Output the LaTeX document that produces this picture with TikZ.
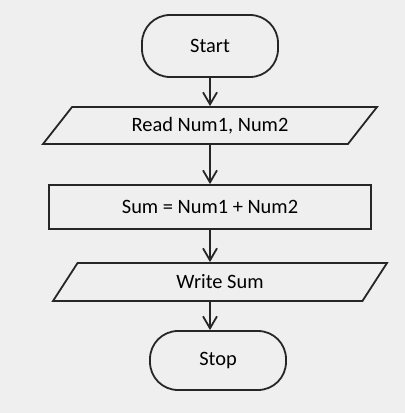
\documentclass[tikz,border=0pt]{standalone}
\usepackage{fontspec}
\setmainfont{Carlito}
\usetikzlibrary{shapes.geometric,arrows.meta}
\definecolor{bggray}{RGB}{239,239,239}
\tikzstyle{every node}=[draw=black!85,line width=0.9pt,inner sep=0pt,font=\fontsize{10.2}{12}\selectfont]
\tikzstyle{terminal}=[rectangle,rounded corners=14pt,minimum width=68pt]
\tikzstyle{io}=[trapezium,trapezium left angle=30,trapezium right angle=150,trapezium stretches body,minimum width=167pt]
\tikzstyle{process}=[rectangle,minimum width=161pt,minimum height=22pt]
\tikzstyle{arrow}=[draw=black!85,line width=0.9pt,-{Straight Barb[length=6pt,width=7pt]}]
\begin{document}
\begin{tikzpicture}[x=0.5pt, y=-0.5pt]
%background
\fill[bggray] (0,0) rectangle (405,413);
\useasboundingbox (0,0) rectangle (405,413);
%blocks
\node[terminal, minimum height=31pt] (start) at (210,46) {Start};
\node[io, minimum height=18.5pt] (read) at (210,125.5) {Read Num1, Num2};
\node[process] (sum) at (210,207) {Sum = Num1 + Num2};
\node[io, minimum height=19pt] (write) at (220,282) {Write Sum};
\node[terminal, minimum height=29.5pt] (stop) at (218,360.5) {Stop};
%arrows
\draw[arrow] (start) -- (read);
\draw[arrow] (read) -- (sum);
\draw[arrow] (sum.south) -- (sum.south |- write.north);
\draw[arrow] (write.south -| start) -- (start |- stop.north);
\end{tikzpicture}
\end{document}
